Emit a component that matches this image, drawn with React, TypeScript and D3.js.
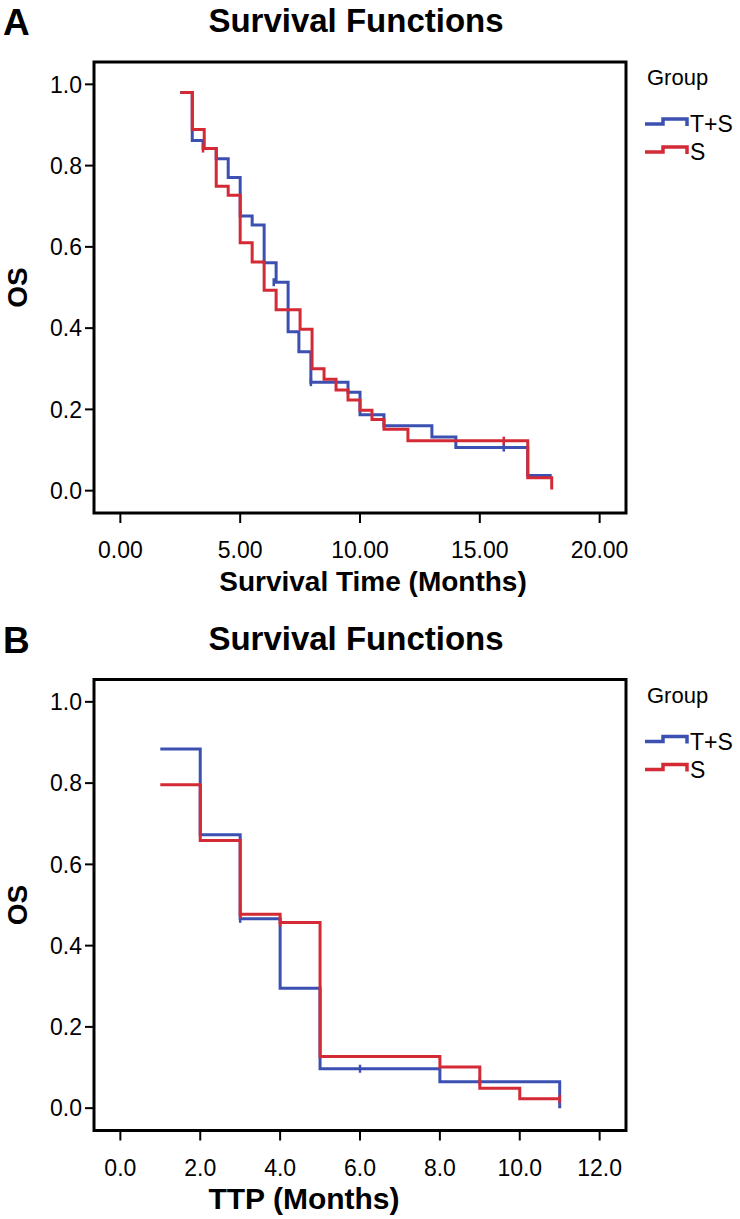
import React from "react";
import * as d3 from "d3";

// ---------- Data ----------
// Panel A: overall survival
const osBlueTimes = [2.5, 3.0, 3.45, 4.0, 4.5, 5.0, 5.5, 6.0, 6.5, 7.0, 7.45, 7.95, 9.5, 10.0, 11.0, 13.0, 14.0, 17.0, 18.0];
const osBlueValues = [0.98, 0.862, 0.842, 0.817, 0.771, 0.676, 0.654, 0.561, 0.513, 0.391, 0.342, 0.267, 0.242, 0.187, 0.16, 0.132, 0.106, 0.037, 0.037];
const osRedTimes = [2.5, 3.0, 3.5, 4.0, 4.5, 5.0, 5.5, 6.0, 6.5, 7.5, 8.0, 8.5, 9.0, 9.5, 10.0, 10.5, 11.0, 12.0, 17.0, 18.0];
const osRedValues = [0.98, 0.889, 0.842, 0.749, 0.727, 0.61, 0.563, 0.493, 0.445, 0.397, 0.3, 0.274, 0.248, 0.223, 0.198, 0.175, 0.151, 0.123, 0.032, 0.003];
const osBlueCensorTimes = [6.4, 7.95, 16.0];
const osBlueCensorValues = [0.513, 0.267, 0.106];
const osRedCensorTimes = [3.45, 16.0];
const osRedCensorValues = [0.842, 0.123];

// Panel B: TTP
const ttpBlueTimes = [1.0, 2.0, 3.0, 4.0, 5.0, 8.0, 11.0];
const ttpBlueValues = [0.884, 0.673, 0.466, 0.295, 0.097, 0.065, 0.0];
const ttpRedTimes = [1.0, 2.0, 3.0, 4.0, 5.0, 8.0, 9.0, 10.0, 11.0];
const ttpRedValues = [0.796, 0.659, 0.477, 0.457, 0.127, 0.101, 0.049, 0.023, 0.023];
const ttpBlueCensorTimes = [3.0, 6.0, 9.0];
const ttpBlueCensorValues = [0.466, 0.097, 0.065];
const ttpRedCensorTimes = [3.0, 4.0, 11.0];
const ttpRedCensorValues = [0.477, 0.457, 0.023];

const yTicks = [0, 0.2, 0.4, 0.6, 0.8, 1.0];
const osXTicks = [0, 5, 10, 15, 20];
const ttpXTicks = [0, 2, 4, 6, 8, 10, 12];
const groupNames = ["T+S", "S"];

const BLUE = "#3c50b2";
const RED = "#d32a36";
const FONT = "'Liberation Sans', Arial, Helvetica, sans-serif";

type PanelProps = {
  dy: number;
  letter: string;
  xDomain: [number, number];
  xTicks: number[];
  xFmt: string;
  xTitle: string;
  xTitleSize: number;
  xTitleX: number;
  blue: { t: number[]; v: number[]; ct: number[]; cv: number[] };
  red: { t: number[]; v: number[]; ct: number[]; cv: number[] };
};

function Panel({ dy, letter, xDomain, xTicks, xFmt, xTitle, xTitleSize, xTitleX, blue, red }: PanelProps) {
  const left = 94, right = 626, top = 62, bottom = 513;
  const x = d3.scaleLinear().domain(xDomain).range([left, right]);
  const y = d3.scaleLinear().domain([-0.055, 1.055]).range([bottom, top]);
  const line = d3
    .line<[number, number]>()
    .x((d) => x(d[0]))
    .y((d) => y(d[1]))
    .curve(d3.curveStepAfter);
  const pts = (t: number[], v: number[]) => t.map((tt, i) => [tt, v[i]] as [number, number]);
  const fx = d3.format(xFmt);
  const fy = d3.format(".1f");
  const series = [
    { s: blue, c: BLUE },
    { s: red, c: RED },
  ];
  return (
    <g transform={`translate(0,${dy})`} fontFamily={FONT}>
      <text x={3} y={35} fontSize={37} fontWeight="bold">{letter}</text>
      <text x={356} y={32} fontSize={33} fontWeight="bold" textAnchor="middle">Survival Functions</text>
      {series.map(({ s, c }, i) => (
        <g key={i}>
          <path d={line(pts(s.t, s.v)) || ""} fill="none" stroke={c} strokeWidth={3} strokeLinejoin="miter" />
          {s.ct.map((ct, j) => (
            <line key={j} x1={x(ct)} x2={x(ct)} y1={y(s.cv[j]) - 4} y2={y(s.cv[j]) + 4} stroke={c} strokeWidth={2.5} />
          ))}
        </g>
      ))}
      <rect x={left} y={top} width={right - left} height={bottom - top} fill="none" stroke="#000" strokeWidth={3} />
      {yTicks.map((t) => (
        <g key={t}>
          <line x1={left - 9} x2={left} y1={y(t)} y2={y(t)} stroke="#000" strokeWidth={2} />
          <text x={left - 12} y={y(t)} dy="0.36em" fontSize={23} textAnchor="end">{fy(t)}</text>
        </g>
      ))}
      {xTicks.map((t) => (
        <g key={t}>
          <line x1={x(t)} x2={x(t)} y1={bottom} y2={bottom + 10} stroke="#000" strokeWidth={2} />
          <text x={x(t)} y={bottom + 45} fontSize={23} textAnchor="middle">{fx(t)}</text>
        </g>
      ))}
      <text x={xTitleX} y={bottom + 78} fontSize={xTitleSize} fontWeight="bold" textAnchor="middle">{xTitle}</text>
      <text transform={`translate(27,${(top + bottom) / 2}) rotate(-90)`} fontSize={28} fontWeight="bold" textAnchor="middle">OS</text>
      <text x={647} y={85} fontSize={22}>Group</text>
      {groupNames.map((g, i) => {
        const yy = 124 + i * 28;
        const c = i === 0 ? BLUE : RED;
        return (
          <g key={g}>
            <path d={`M645,${yy} H663 V${yy - 5} H687 V${yy + 2}`} fill="none" stroke={c} strokeWidth={3.5} />
            <text x={690} y={yy} dy="0.36em" fontSize={23}>{g}</text>
          </g>
        );
      })}
    </g>
  );
}

export default function App() {
  return (
    <svg width={740} height={1219} style={{ position: "absolute", left: 0, top: 0, background: "#fff" }}>
      <rect width={740} height={1219} fill="#fff" />
      <Panel
        dy={0}
        letter="A"
        xDomain={[-1.1, 21.1]}
        xTicks={osXTicks}
        xFmt=".2f"
        xTitle="Survival Time (Months)"
        xTitleSize={28}
        xTitleX={373}
        blue={{ t: osBlueTimes, v: osBlueValues, ct: osBlueCensorTimes, cv: osBlueCensorValues }}
        red={{ t: osRedTimes, v: osRedValues, ct: osRedCensorTimes, cv: osRedCensorValues }}
      />
      <Panel
        dy={617.5}
        letter="B"
        xDomain={[-0.66, 12.66]}
        xTicks={ttpXTicks}
        xFmt=".1f"
        xTitle="TTP (Months)"
        xTitleSize={30}
        xTitleX={304}
        blue={{ t: ttpBlueTimes, v: ttpBlueValues, ct: ttpBlueCensorTimes, cv: ttpBlueCensorValues }}
        red={{ t: ttpRedTimes, v: ttpRedValues, ct: ttpRedCensorTimes, cv: ttpRedCensorValues }}
      />
    </svg>
  );
}
